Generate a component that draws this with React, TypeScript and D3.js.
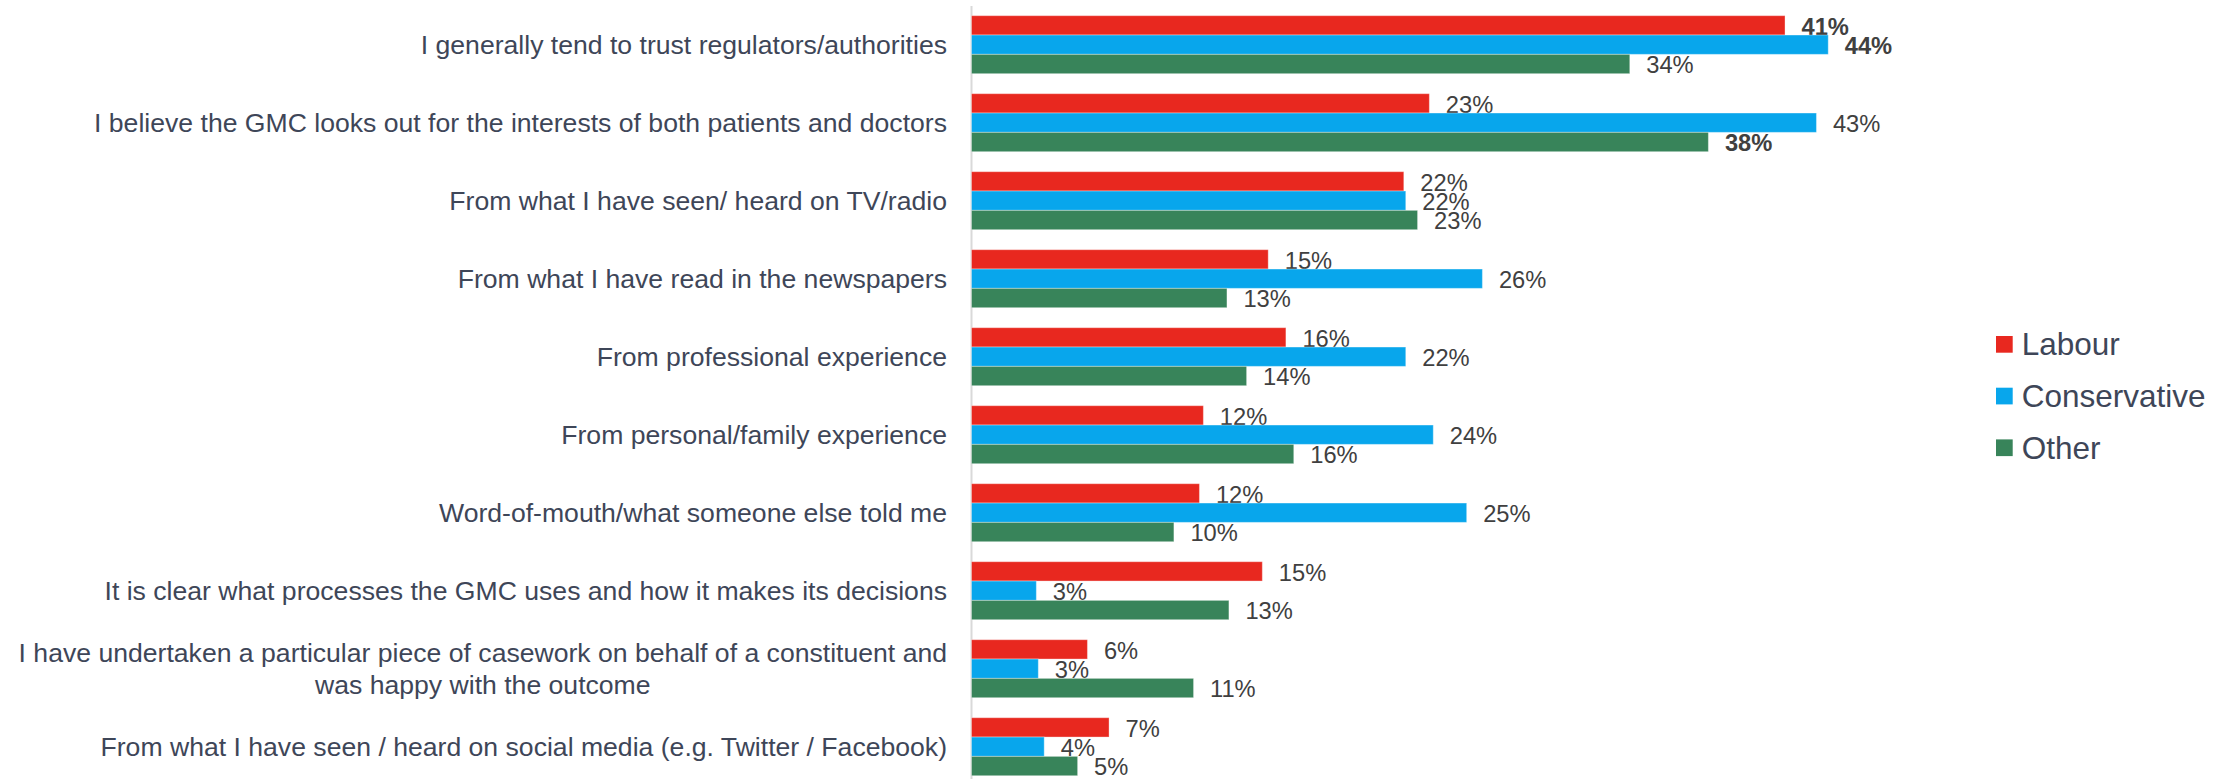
import React, { useEffect, useRef } from 'react';
import * as d3 from 'd3';

const WIDTH = 2233;
const HEIGHT = 779;

// category labels, top to bottom (a "\n" splits a label over two lines)
const categories = [
  'I generally tend to trust regulators/authorities',
  'I believe the GMC looks out for the interests of both patients and doctors',
  'From what I have seen/ heard on TV/radio',
  'From what I have read in the newspapers',
  'From professional experience',
  'From personal/family experience',
  'Word-of-mouth/what someone else told me',
  'It is clear what processes the GMC uses and how it makes its decisions',
  'I have undertaken a particular piece of casework on behalf of a constituent and\nwas happy with the outcome',
  'From what I have seen / heard on social media (e.g. Twitter / Facebook)',
];

const seriesNames = ['Labour', 'Conservative', 'Other'];

// percentages
const labour = [41.4, 23.3, 22.0, 15.1, 16.0, 11.8, 11.6, 14.8, 5.9, 7.0];
const conservative = [43.6, 43.0, 22.1, 26.0, 22.1, 23.5, 25.2, 3.3, 3.4, 3.7];
const other = [33.5, 37.5, 22.7, 13.0, 14.0, 16.4, 10.3, 13.1, 11.3, 5.4];

// labels shown in bold: [category index, series]
const boldLabels: [number, string][] = [
  [0, 'Labour'],
  [0, 'Conservative'],
  [1, 'Other'],
];

const SERIES_COLORS: Record<string, string> = {
  Labour: '#e8281f',
  Conservative: '#08a6ec',
  Other: '#38845a',
};

const FONT = '"Liberation Sans", Arial, sans-serif';
const LABEL_COLOR = '#3e4658';
const VALUE_COLOR = '#404040';

const App: React.FC = () => {
  const svgRef = useRef<SVGSVGElement>(null);

  useEffect(() => {
    document.body.style.margin = '0';
    if (!svgRef.current) return;
    const svg = d3.select(svgRef.current);
    svg.selectAll('*').remove();

    const values: Record<string, number[]> = {
      Labour: labour,
      Conservative: conservative,
      Other: other,
    };

    const axisX = 971.5;
    const x = d3.scaleLinear().domain([0, 50]).range([axisX, axisX + 50 * 19.65]);

    const y = d3
      .scaleBand<string>()
      .domain(categories)
      .range([5.7, 785.7])
      .paddingInner(0.2564)
      .paddingOuter(0.128);

    const ySeries = d3.scaleBand<string>().domain(seriesNames).range([0, y.bandwidth()]);

    // category axis line
    svg
      .append('line')
      .attr('x1', axisX)
      .attr('x2', axisX)
      .attr('y1', 6)
      .attr('y2', HEIGHT)
      .attr('stroke', '#d9d9d9')
      .attr('stroke-width', 2);

    categories.forEach((cat, i) => {
      const g = svg.append('g').attr('transform', `translate(0, ${y(cat)})`);

      seriesNames.forEach((s) => {
        const v = values[s][i];
        const by = ySeries(s)!;
        g.append('rect')
          .attr('x', x(0))
          .attr('y', by)
          .attr('width', x(v) - x(0))
          .attr('height', ySeries.bandwidth())
          .attr('fill', SERIES_COLORS[s])
          .attr('stroke', '#ffffff')
          .attr('stroke-opacity', 0.35)
          .attr('stroke-width', 1);

        const bold = boldLabels.some(([ci, ss]) => ci === i && ss === s);
        g.append('text')
          .attr('x', x(v) + 16.5)
          .attr('y', by + ySeries.bandwidth() - 0.5)
          .attr('font-family', FONT)
          .attr('font-size', '23.7px')
          .attr('font-weight', bold ? 'bold' : 'normal')
          .attr('fill', VALUE_COLOR)
          .text(`${Math.round(v)}%`);
      });

      // category label, right aligned; multi-line labels centred on each other
      const lines = cat.split('\n');
      const cy = y(cat)! + y.bandwidth() / 2;
      const lineH = 31.5;
      const right = axisX - 24.5;
      const label = svg
        .append('text')
        .attr('font-family', FONT)
        .attr('font-size', '26.6px')
        .attr('fill', LABEL_COLOR);
      const spans = lines.map((ln, k) =>
        label
          .append('tspan')
          .attr('y', cy + (k - (lines.length - 1) / 2) * lineH)
          .attr('dy', '0.35em')
          .text(ln)
      );
      const widths = spans.map((t) => (t.node() as SVGTSpanElement).getComputedTextLength());
      const maxW = Math.max(...widths);
      spans.forEach((t) => {
        t.attr('x', right - maxW / 2).attr('text-anchor', 'middle');
      });
    });

    // legend
    const legend = svg.append('g').attr('transform', 'translate(1996, 336)');
    seriesNames.forEach((s, i) => {
      const row = legend.append('g').attr('transform', `translate(0, ${i * 51.7})`);
      row.append('rect').attr('width', 16.7).attr('height', 16.7).attr('fill', SERIES_COLORS[s]);
      row
        .append('text')
        .attr('x', 25.7)
        .attr('y', 8.4)
        .attr('dy', '0.35em')
        .attr('font-family', FONT)
        .attr('font-size', '31.5px')
        .attr('fill', LABEL_COLOR)
        .text(s);
    });
  }, []);

  return <svg ref={svgRef} width={WIDTH} height={HEIGHT} style={{ display: 'block' }} />;
};

export default App;
